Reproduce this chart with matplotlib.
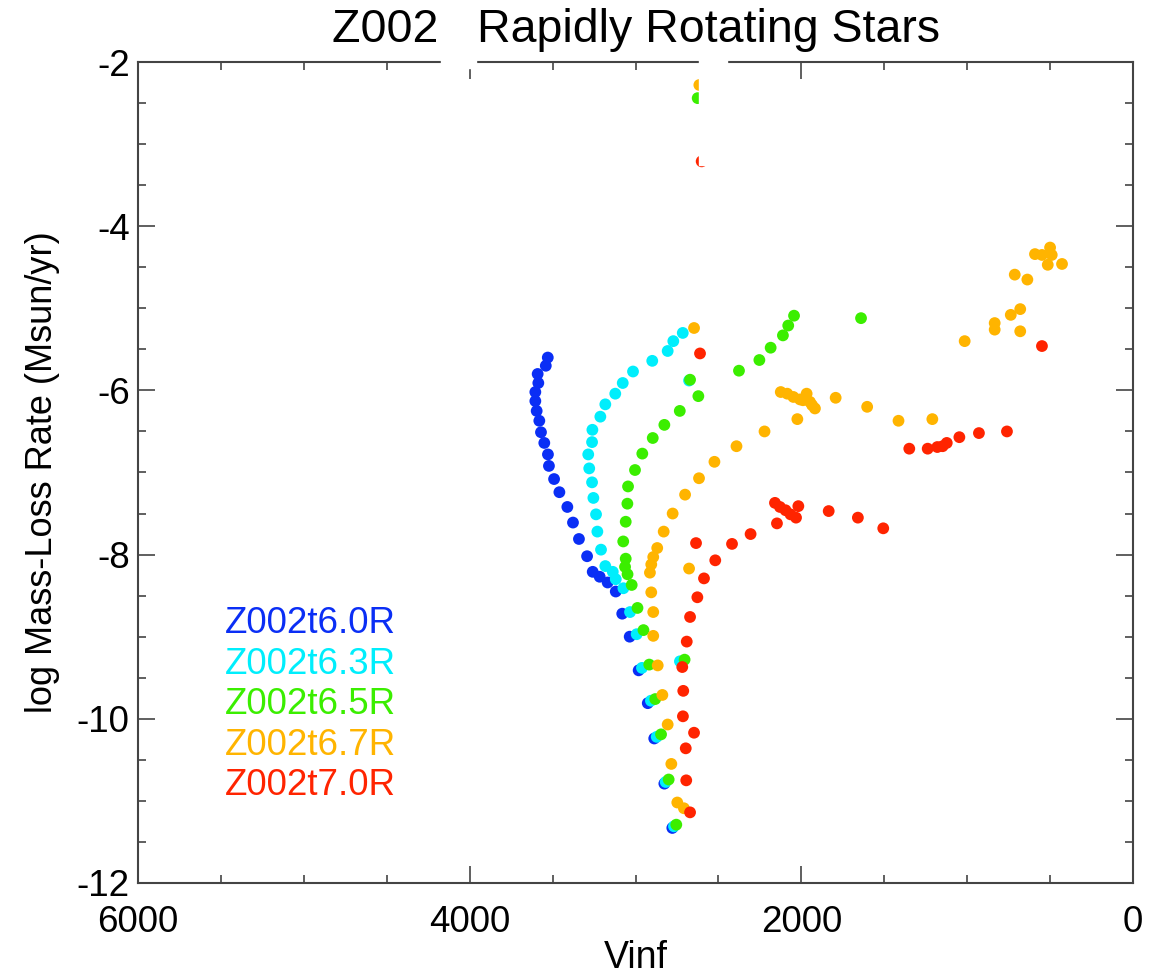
import numpy as np
import matplotlib
matplotlib.use("Agg")
import matplotlib.pyplot as plt
from matplotlib.patches import Rectangle

plt.rcParams['font.family'] = ['Liberation Sans', 'DejaVu Sans']
plt.rcParams['axes.unicode_minus'] = False

# model names and colours
labels = ['Z002t6.0R', 'Z002t6.3R', 'Z002t6.5R', 'Z002t6.7R', 'Z002t7.0R']
colors = ['#0a2ef5', '#00eefc', '#3bee00', '#ffb400', '#ff2400']

# terminal velocity (km/s) and log mass-loss rate
v_60 = [3529, 3541, 3590, 3586, 3604, 3604, 3596, 3580, 3570, 3550, 3528, 3522,
        3491, 3459, 3411, 3377, 3341, 3292, 3258, 3216, 3168, 3119, 3080, 3035,
        2981, 2926, 2887, 2826, 2778]
m_60 = [-5.60, -5.70, -5.80, -5.91, -6.02, -6.13, -6.25, -6.37, -6.51, -6.64,
        -6.78, -6.92, -7.08, -7.24, -7.42, -7.61, -7.81, -8.02, -8.21, -8.27,
        -8.34, -8.45, -8.72, -9.00, -9.41, -9.81, -10.24, -10.79, -11.33]

v_63 = [2715, 2772, 2806, 2899, 3015, 3077, 3122, 3182, 3212, 3260, 3262, 3285,
        3279, 3262, 3254, 3238, 3230, 3208, 3182, 3137, 3119, 3073, 3033, 2993,
        2961, 2907, 2872, 2818, 2768, 2732, 2677]
m_63 = [-5.30, -5.40, -5.52, -5.64, -5.77, -5.91, -6.04, -6.17, -6.32, -6.48,
        -6.63, -6.78, -6.95, -7.12, -7.31, -7.51, -7.72, -7.94, -8.14, -8.21,
        -8.30, -8.41, -8.70, -8.97, -9.38, -9.78, -10.22, -10.77, -11.31, -9.30,
        -5.88]

v_65 = [2625, 1640, 2044, 2079, 2111, 2185, 2253, 2376, 2671, 2621, 2733, 2826,
        2896, 2959, 3003, 3045, 3049, 3059, 3074, 3059, 3063, 3048, 3023, 2988,
        2952, 2917, 2881, 2846, 2800, 2754, 2704]
m_65 = [-2.44, -5.12, -5.09, -5.21, -5.33, -5.48, -5.63, -5.76, -5.87, -6.07,
        -6.25, -6.42, -6.58, -6.77, -6.97, -7.17, -7.38, -7.60, -7.84, -8.05,
        -8.15, -8.24, -8.37, -8.65, -8.92, -9.34, -9.76, -10.19, -10.74, -11.29,
        -9.28]

v_67 = [2615, 2647, 2124, 2085, 2048, 2008, 1968, 1948, 1918, 1793, 1603, 1414,
        1210, 2024, 2222, 2391, 2524, 2617, 2701, 2776, 2830, 2869, 2893, 2905,
        2913, 2905, 2893, 2893, 2866, 2838, 2806, 2784, 2748, 2708, 2677, 1015,
        834, 834, 737, 680, 680, 713, 637, 591, 549, 500, 490, 514, 428,
        1990, 1935]
m_67 = [-2.28, -5.24, -6.02, -6.04, -6.08, -6.11, -6.04, -6.14, -6.22, -6.09,
        -6.20, -6.37, -6.35, -6.35, -6.50, -6.68, -6.87, -7.07, -7.27, -7.50,
        -7.72, -7.92, -8.03, -8.12, -8.22, -8.46, -8.70, -8.99, -9.35, -9.71,
        -10.07, -10.55, -11.02, -11.09, -8.17, -5.40, -5.18, -5.26, -5.08, -5.01,
        -5.28, -4.59, -4.65, -4.34, -4.35, -4.26, -4.35, -4.47, -4.46,
        -6.12, -6.18]

v_70 = [2601, 2611, 549, 1349, 1238, 1180, 1148, 1123, 1047, 929, 760, 2159,
        2129, 2095, 2065, 2032, 2018, 2147, 2306, 1835, 1659, 1506, 2418, 2635,
        2519, 2587, 2627, 2671, 2691, 2718, 2712, 2714, 2647, 2697, 2694, 2671]
m_70 = [-3.21, -5.55, -5.46, -6.71, -6.71, -6.69, -6.68, -6.64, -6.57, -6.52,
        -6.50, -7.37, -7.42, -7.46, -7.51, -7.55, -7.41, -7.62, -7.75, -7.47,
        -7.55, -7.68, -7.87, -7.86, -8.07, -8.29, -8.52, -8.76, -9.06, -9.37,
        -9.66, -9.97, -10.17, -10.36, -10.75, -11.14]

series = [(v_60, m_60), (v_63, m_63), (v_65, m_65), (v_67, m_67), (v_70, m_70)]

fig = plt.figure(figsize=(11.52, 9.75), dpi=100)
ax = fig.add_axes([0.1198, 0.0944, 0.8637, 0.8420])

for (v, m), c in zip(series, colors):
    ax.scatter(v, m, s=72, color=c, edgecolors='none', zorder=3)

ax.set_xlim(6000, 0)
ax.set_ylim(-12, -2)
ax.set_xticks([6000, 4000, 2000, 0])
ax.set_xticks(np.arange(0, 6001, 500), minor=True)
ax.set_yticks(np.arange(-12, -1, 2))
ax.set_yticks(np.arange(-12, -1.9, 0.5), minor=True)

ax.tick_params(which='both', direction='in', top=True, right=True,
               color='#444444', width=1.2, labelsize=26.5)
ax.tick_params(which='major', length=12)
ax.tick_params(which='minor', length=6)
ax.tick_params(axis='x', pad=16)
ax.tick_params(axis='y', pad=6)
for sp in ax.spines.values():
    sp.set_color('#444444')
    sp.set_linewidth(1.5)

ax.set_xlabel('Vinf', fontsize=27, labelpad=0)
ax.set_ylabel('log Mass-Loss Rate (Msun/yr)', fontsize=26, labelpad=12)
fig.text(0.552, 0.969, 'Z002   Rapidly Rotating Stars', fontsize=33.5,
         ha='center', va='center')

for i, (lab, c) in enumerate(zip(labels, colors)):
    ax.text(0.0874, 0.3155 - i * 0.0492, lab, color=c, fontsize=26.5,
            transform=ax.transAxes, ha='left', va='center')

# white blanking boxes present in the original plot
fig.add_artist(Rectangle((0.6070, 0.831), 0.0241, 0.113, color='white',
                         transform=fig.transFigure, zorder=10))
fig.add_artist(Rectangle((0.3828, 0.930), 0.0304, 0.012, color='white',
                         transform=fig.transFigure, zorder=10))

fig.savefig('out.png', dpi=100)
